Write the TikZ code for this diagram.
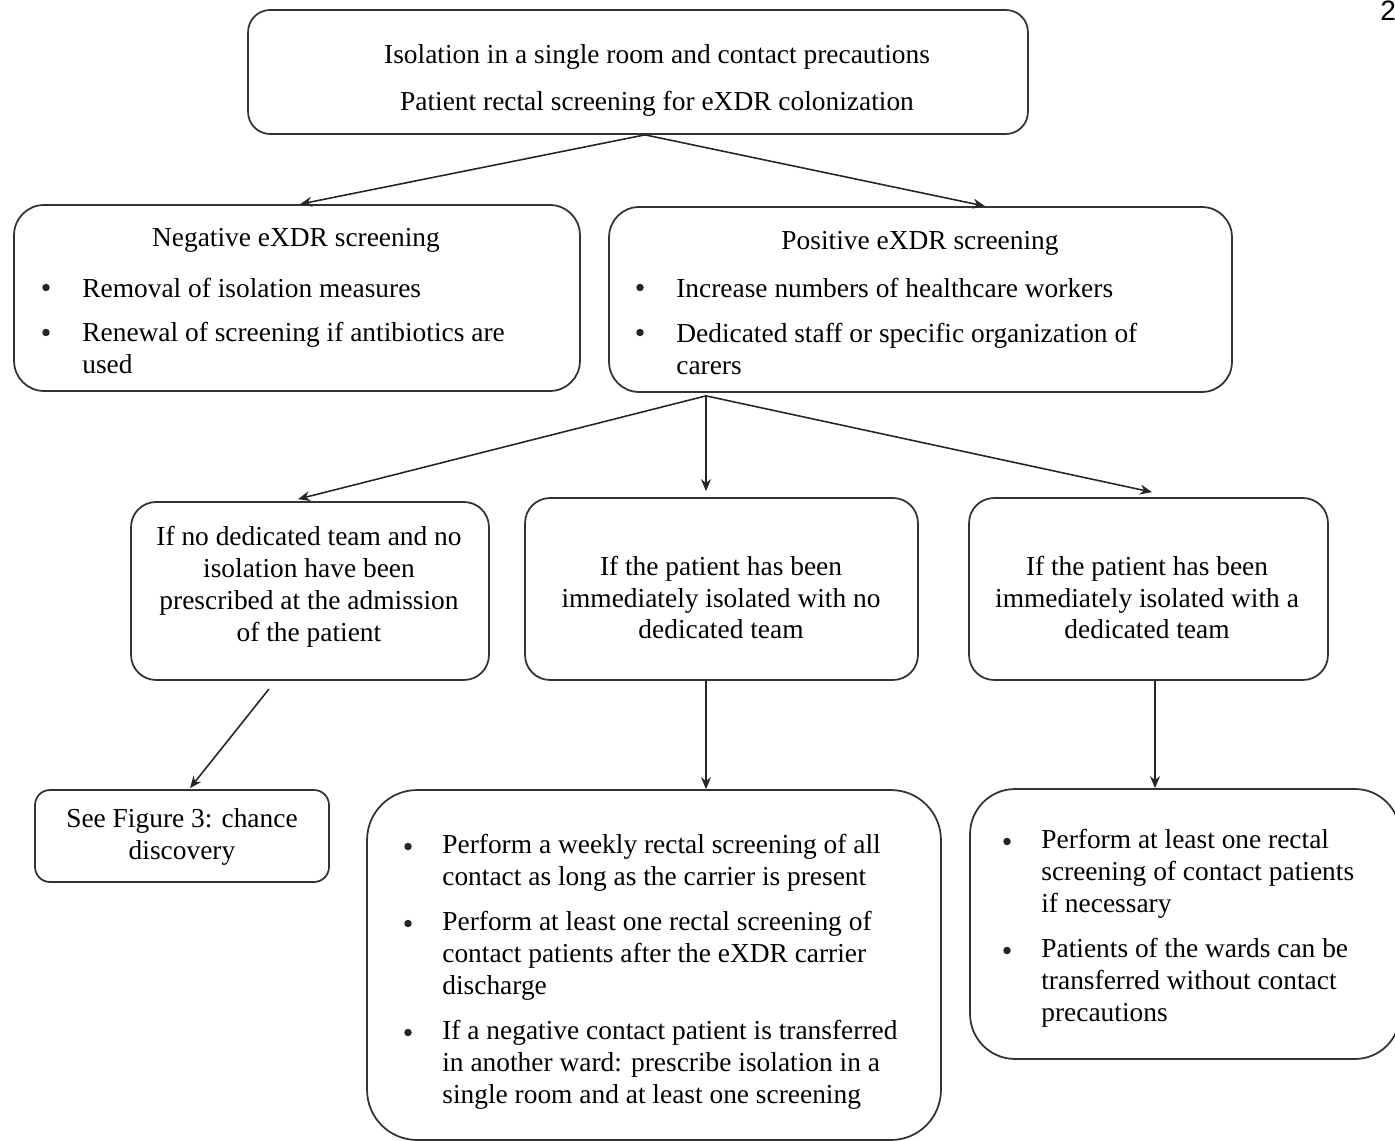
\documentclass[tikz,border=0pt]{standalone}
\usepackage{fontspec}
\setmainfont{Liberation Serif}
\newfontfamily\pagenumfont{Liberation Sans}
\usetikzlibrary{arrows.meta,calc}
\begin{document}
\begin{tikzpicture}[x=0.02cm,y=-0.02cm,
  font=\fontsize{15.6}{18.2}\selectfont,
  box/.style={draw=black!80, line width=1pt, rounded corners=#1, inner sep=0pt},
  box/.default=0.5cm,
  txt/.style={inner sep=0pt, align=center, anchor=center, yshift=-0.05cm},
  ltxt/.style={inner sep=0pt, align=left, anchor=west, yshift=-0.04cm},
  bul/.style={circle, fill=black!85, inner sep=0pt, minimum size=0.15cm, yshift=-0.03cm},
  conn/.style={draw=black!85, line width=0.9pt, -{Stealth[length=0.24cm,width=0.2cm]}}]
\useasboundingbox (0,0) rectangle (1395,1141);

% page number fragment
\node[anchor=north west, inner sep=0pt, font=\pagenumfont\fontsize{16}{16}\selectfont] (pnum) at (1380,1) {2};

% top box
\node[box=0.44cm, minimum width=15.6cm, minimum height=2.48cm] (top) at (638,72) {};
\node[txt] (topl1) at (657,54) {Isolation in a single room and contact precautions};
\node[txt] (topl2) at (657,101) {Patient rectal screening for eXDR colonization};

% negative
\node[box=0.6cm, minimum width=11.32cm, minimum height=3.72cm] (neg) at (297,298) {};
\node[txt] (negt) at (296,238) {Negative eXDR screening};
\node[bul] (negb1) at (46,286) {};
\node[bul] (negb2) at (46,331) {};
\node[ltxt] (negi1) at (82,286) {Removal of isolation measures};
\node[ltxt] (negi2) at (82,346) {Renewal of screening if antibiotics are\\used};

% positive
\node[box=0.6cm, minimum width=12.46cm, minimum height=3.70cm] (pos) at (920.5,299.5) {};
\node[txt] (post) at (920,241) {Positive eXDR screening};
\node[bul] (posb1) at (640,286) {};
\node[bul] (posb2) at (640,331) {};
\node[ltxt] (posi1) at (676,286) {Increase numbers of healthcare workers};
\node[ltxt] (posi2) at (676,347) {Dedicated staff or specific organization of\\carers};

% third row
\node[box=0.5cm, minimum width=7.16cm, minimum height=3.56cm] (c1) at (310,591) {};
\node[txt] (c1t) at (309,584) {If no dedicated team and no\\isolation have been\\prescribed at the admission\\of the patient};
\node[box=0.5cm, minimum width=7.86cm, minimum height=3.64cm] (c2) at (721.5,589) {};
\node[txt] (c2t) at (721,595) {If the patient has been\\immediately isolated with no\\dedicated team};
\node[box=0.5cm, minimum width=7.18cm, minimum height=3.64cm] (c3) at (1148.5,589) {};
\node[txt] (c3t) at (1147,595) {If the patient has been\\immediately isolated with a\\dedicated team};

% bottom row
\node[box=0.3cm, minimum width=5.88cm, minimum height=1.84cm] (see) at (182,836) {};
\node[txt] (seet) at (182,834) {See Figure 3: chance\\discovery};

\node[box=1cm, minimum width=11.48cm, minimum height=7.0cm] (b2) at (654,965) {};
\node[bul] (b2b1) at (408,845) {};
\node[bul] (b2b2) at (408,922) {};
\node[bul] (b2b3) at (408,1031) {};
\node[ltxt] (b2i1) at (442,861) {Perform a weekly rectal screening of all\\contact as long as the carrier is present};
\node[ltxt] (b2i2) at (442,954) {Perform at least one rectal screening of\\contact patients after the eXDR carrier\\discharge};
\node[ltxt] (b2i3) at (442,1063) {If a negative contact patient is transferred\\in another ward: prescribe isolation in a\\single room and at least one screening};

\node[box=0.9cm, minimum width=8.6cm, minimum height=5.4cm] (b3) at (1185,924) {};
\node[bul] (b3b1) at (1007,840) {};
\node[bul] (b3b2) at (1007,949) {};
\node[ltxt] (b3i1) at (1041,872) {Perform at least one rectal\\screening of contact patients\\if necessary};
\node[ltxt] (b3i2) at (1041,981) {Patients of the wards can be\\transferred without contact\\precautions};

% connectors
\draw[conn] ($(top.south)+(7,0)$) -- ($(neg.north)+(3,0)$);
\draw[conn] ($(top.south)+(7,0)$) -- ($(pos.north)+(64.5,0)$);
\draw[conn] ($(pos.south)+(-214.5,3)$) -- ($(c1.north)+(-12,-2)$);
\draw[conn] ($(pos.south)+(-214.5,3)$) -- ($(c2.north)+(-15.5,-6)$);
\draw[conn] ($(pos.south)+(-214.5,3)$) -- ($(c3.north)+(3.5,-5)$);
\coordinate (c1free) at (269,689);
\draw[conn] (c1free) -- ($(see.north)+(8,-1)$);
\draw[conn] ($(c2.south)+(-15.5,0)$) -- ($(b2.north)+(52,0)$);
\draw[conn] ($(c3.south)+(6.5,0)$) -- ($(b3.north)+(-30,0)$);
\end{tikzpicture}
\end{document}
